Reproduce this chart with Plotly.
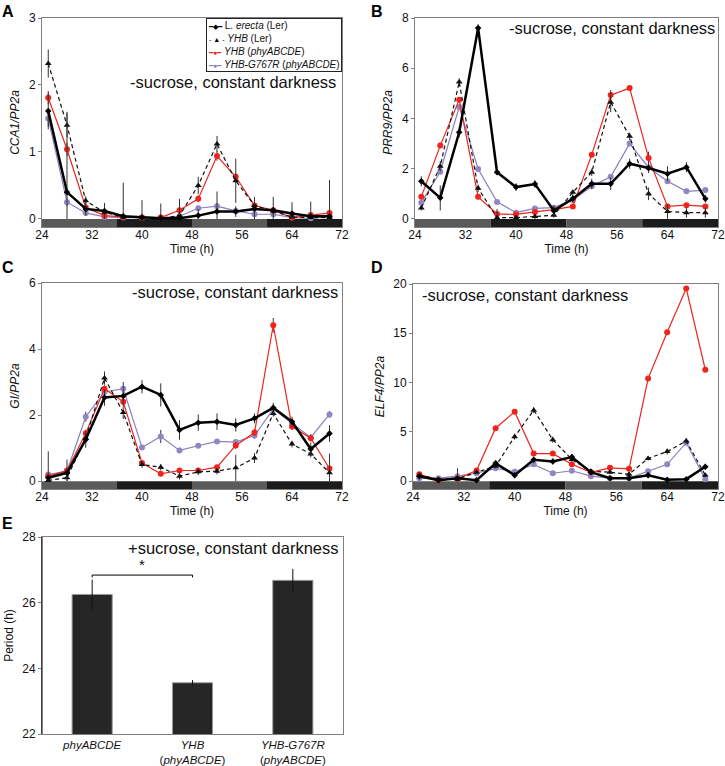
import numpy as np
import plotly.graph_objects as go

FONT = "Liberation Sans, Arial, sans-serif"

# sampling times (h in constant darkness) and subjective day/night bar
TIME_H = [25, 28, 31, 34, 37, 40, 43, 46, 49, 52, 55, 58, 61, 64, 67, 70]
TIME_TICKS = [24, 32, 40, 48, 56, 64, 72]
PHASES = [(24, 36, "day"), (36, 48, "night"), (48, 60, "day"), (60, 72, "night")]

# A: CCA1/PP2a
CCA1_LER = [1.61, 0.40, 0.15, 0.12, 0.04, 0.02, 0.01, 0.01, 0.05, 0.11, 0.11, 0.15, 0.13, 0.08, 0.04, 0.04]
CCA1_LER_ERR = [0.27, 1.20, 0.10, 0.12, 0.50, 0.26, 0.22, 0.29, 0.10, 0.30, 0.08, 0.18, 0.20, 0.17, 0.22, 0.54]
CCA1_YHB_LER = [2.32, 1.40, 0.27, 0.10, 0.03, 0.02, 0.01, 0.05, 0.50, 1.12, 0.57, 0.20, 0.12, 0.03, 0.02, 0.02]
CCA1_YHB_LER_ERR = [0.21, 0.18, 0.07, 0.05, 0.02, 0.02, 0.02, 0.03, 0.13, 0.12, 0.33, 0.05, 0.05, 0.02, 0.02, 0.02]
CCA1_YHB_ABCDE = [1.81, 1.04, 0.17, 0.05, 0.03, 0.02, 0.02, 0.13, 0.30, 0.94, 0.63, 0.20, 0.13, 0.02, 0.06, 0.09]
CCA1_YHB_ABCDE_ERR = [0.10, 0.10, 0.04, 0.02, 0.02, 0.02, 0.02, 0.03, 0.05, 0.07, 0.05, 0.04, 0.03, 0.02, 0.02, 0.02]
CCA1_G767R = [1.50, 0.25, 0.09, 0.03, 0.02, 0.02, 0.02, 0.04, 0.16, 0.19, 0.12, 0.07, 0.07, 0.02, 0.01, 0.04]
CCA1_G767R_ERR = [0.12, 0.06, 0.03, 0.02, 0.02, 0.02, 0.02, 0.02, 0.04, 0.05, 0.03, 0.02, 0.02, 0.02, 0.02, 0.02]

# B: PRR9/PP2a
PRR9_LER = [1.50, 0.84, 3.45, 7.60, 1.86, 1.27, 1.39, 0.33, 0.81, 1.40, 1.40, 2.20, 2.03, 1.80, 2.06, 0.80]
PRR9_LER_ERR = [0.20, 0.50, 0.20, 0.15, 0.10, 0.15, 0.15, 0.20, 0.15, 0.20, 0.25, 0.20, 0.20, 0.30, 0.20, 0.15]
PRR9_YHB_LER = [0.44, 2.10, 5.45, 1.22, 0.05, 0.05, 0.10, 0.15, 1.06, 1.86, 4.65, 3.29, 1.00, 0.30, 0.25, 0.25]
PRR9_YHB_LER_ERR = [0.10, 0.20, 0.15, 0.15, 0.25, 0.10, 0.10, 0.10, 0.10, 0.15, 0.40, 0.15, 0.25, 0.30, 0.20, 0.20]
PRR9_YHB_ABCDE = [0.88, 2.92, 4.75, 0.88, 0.20, 0.18, 0.28, 0.37, 0.50, 2.56, 4.93, 5.21, 2.43, 0.50, 0.55, 0.50]
PRR9_YHB_ABCDE_ERR = [0.10, 0.10, 0.10, 0.10, 0.20, 0.05, 0.05, 0.05, 0.05, 0.10, 0.20, 0.05, 0.25, 0.05, 0.05, 0.05]
PRR9_G767R = [0.65, 1.88, 4.46, 1.99, 0.68, 0.25, 0.42, 0.45, 0.75, 1.30, 1.68, 3.00, 2.05, 1.50, 1.10, 1.15]
PRR9_G767R_ERR = [0.10, 0.10, 0.10, 0.10, 0.05, 0.05, 0.05, 0.10, 0.05, 0.10, 0.05, 0.10, 0.05, 0.05, 0.05, 0.10]

# C: GI/PP2a
GI_LER = [0.10, 0.25, 1.26, 2.53, 2.58, 2.86, 2.61, 1.55, 1.77, 1.80, 1.70, 1.90, 2.22, 1.80, 0.97, 1.44]
GI_LER_ERR = [0.80, 0.40, 0.25, 0.25, 0.30, 0.20, 0.35, 0.30, 0.25, 0.25, 0.20, 0.15, 0.15, 0.15, 0.20, 0.25]
GI_YHB_LER = [0.02, 0.10, 1.30, 3.12, 2.08, 0.50, 0.42, 0.15, 0.28, 0.30, 0.40, 0.70, 2.05, 1.12, 0.82, 0.25]
GI_YHB_LER_ERR = [0.05, 0.10, 0.15, 0.20, 0.20, 0.10, 0.10, 0.10, 0.10, 0.10, 0.40, 0.15, 0.10, 0.10, 0.10, 0.20]
GI_YHB_ABCDE = [0.15, 0.32, 1.45, 2.80, 2.40, 0.55, 0.22, 0.32, 0.32, 0.42, 1.08, 1.47, 4.72, 1.65, 1.30, 0.38]
GI_YHB_ABCDE_ERR = [0.05, 0.05, 0.10, 0.10, 0.10, 0.05, 0.05, 0.05, 0.05, 0.05, 0.10, 0.10, 0.22, 0.10, 0.10, 0.45]
GI_G767R = [0.20, 0.30, 1.95, 2.70, 2.80, 1.02, 1.35, 0.93, 1.07, 1.20, 1.18, 1.38, 2.18, 1.75, 1.32, 2.02]
GI_G767R_ERR = [0.05, 0.05, 0.15, 0.10, 0.20, 0.05, 0.20, 0.08, 0.05, 0.05, 0.05, 0.10, 0.10, 0.10, 0.10, 0.10]

# D: ELF4/PP2a
ELF4_LER = [0.50, 0.10, 0.30, 0.10, 1.80, 0.60, 2.16, 2.00, 2.44, 0.90, 0.30, 0.30, 0.60, 0.15, 0.20, 1.45]
ELF4_LER_ERR = [0.30, 0.20, 1.00, 0.20, 0.30, 0.30, 0.30, 0.30, 0.30, 0.20, 0.20, 0.20, 0.30, 0.20, 0.20, 0.30]
ELF4_YHB_LER = [0.60, 0.20, 0.20, 0.90, 1.50, 4.50, 7.20, 4.20, 2.20, 1.00, 0.90, 0.70, 2.30, 3.00, 4.07, 0.60]
ELF4_YHB_LER_ERR = [0.20, 0.10, 0.10, 0.20, 0.20, 0.30, 0.30, 0.30, 0.20, 0.20, 0.20, 0.20, 0.20, 0.30, 0.30, 0.20]
ELF4_YHB_ABCDE = [0.70, 0.10, 0.25, 1.08, 5.37, 7.04, 2.79, 2.79, 1.71, 0.90, 1.35, 1.25, 10.40, 15.10, 19.55, 11.30]
ELF4_YHB_ABCDE_ERR = [0.10, 0.10, 0.10, 0.10, 0.20, 0.20, 0.20, 0.20, 0.10, 0.10, 0.10, 0.10, 0.20, 0.20, 0.20, 0.20]
ELF4_G767R = [0.30, 0.30, 0.50, 0.80, 1.30, 0.95, 1.70, 0.80, 1.05, 0.50, 0.30, 0.30, 1.00, 1.70, 3.90, 0.20]
ELF4_G767R_ERR = [0.10, 0.10, 0.10, 0.10, 0.10, 0.10, 0.10, 0.10, 0.10, 0.10, 0.10, 0.10, 0.10, 0.10, 0.20, 0.10]

# E: free-running period
PERIOD_GENOTYPES = [
    "<i>phyABCDE</i>",
    "<i>YHB</i><br>(<i>phyABCDE</i>)",
    "<i>YHB-G767R</i><br>(<i>phyABCDE</i>)",
]
PERIOD_H = [26.25, 23.56, 26.68]
PERIOD_ERR = [0.45, 0.08, 0.35]
SIGNIFICANT_PAIR = (0, 1)

STYLES = {
    "g767r": dict(line=dict(color="#8c7dbd", width=1.2),
                  marker=dict(symbol="circle", size=6, color="#9385c4")),
    "yhb_abcde": dict(line=dict(color="#e8251f", width=1.2),
                      marker=dict(symbol="circle", size=6, color="#f0241c")),
    "yhb_ler": dict(line=dict(color="#111111", width=1.2, dash="4px,3px"),
                    marker=dict(symbol="triangle-up", size=6, color="#111111")),
    "ler": dict(line=dict(color="#000000", width=2.5),
                marker=dict(symbol="diamond", size=5, color="#000000")),
}

PANELS = [
    ("A", "<i>CCA1/PP2a</i>", [-0.12, 3], [0, 1, 2, 3],
     {"g767r": (CCA1_G767R, CCA1_G767R_ERR), "yhb_abcde": (CCA1_YHB_ABCDE, CCA1_YHB_ABCDE_ERR),
      "yhb_ler": (CCA1_YHB_LER, CCA1_YHB_LER_ERR), "ler": (CCA1_LER, CCA1_LER_ERR)}),
    ("B", "<i>PRR9/PP2a</i>", [-0.32, 8], [0, 2, 4, 6, 8],
     {"g767r": (PRR9_G767R, PRR9_G767R_ERR), "yhb_abcde": (PRR9_YHB_ABCDE, PRR9_YHB_ABCDE_ERR),
      "yhb_ler": (PRR9_YHB_LER, PRR9_YHB_LER_ERR), "ler": (PRR9_LER, PRR9_LER_ERR)}),
    ("C", "<i>GI/PP2a</i>", [-0.24, 6], [0, 2, 4, 6],
     {"g767r": (GI_G767R, GI_G767R_ERR), "yhb_abcde": (GI_YHB_ABCDE, GI_YHB_ABCDE_ERR),
      "yhb_ler": (GI_YHB_LER, GI_YHB_LER_ERR), "ler": (GI_LER, GI_LER_ERR)}),
    ("D", "<i>ELF4/PP2a</i>", [-0.8, 20], [0, 5, 10, 15, 20],
     {"g767r": (ELF4_G767R, ELF4_G767R_ERR), "yhb_abcde": (ELF4_YHB_ABCDE, ELF4_YHB_ABCDE_ERR),
      "yhb_ler": (ELF4_YHB_LER, ELF4_YHB_LER_ERR), "ler": (ELF4_LER, ELF4_LER_ERR)}),
]

# pixel boxes (left, top, right, bottom) in the 725x766 page
W, H = 725, 766
BOXES = {
    "A": (42, 18, 342, 227),
    "B": (415, 18, 718, 227),
    "C": (42, 283, 342, 489),
    "D": (413, 284, 718, 489),
    "E": (42, 537, 343, 734),
}


def dom(box):
    left, top, right, bottom = box
    return [left / W, right / W], [1 - bottom / H, 1 - top / H]


fig = go.Figure()
frame = dict(showline=True, mirror=True, linecolor="#808080", linewidth=1, automargin=False,
             showgrid=False, zeroline=False, tickfont=dict(size=12, color="#111"))

for n, (letter, ytitle, yrange, yticks, series) in enumerate(PANELS, start=1):
    sfx = "" if n == 1 else str(n)
    for key, (vals, errs) in series.items():
        v = np.array(vals)
        e = np.array(errs)
        fig.add_trace(go.Scatter(
            x=TIME_H, y=v, mode="lines+markers",
            xaxis="x" + sfx, yaxis="y" + sfx,
            line=STYLES[key]["line"], marker=STYLES[key]["marker"],
            error_y=dict(type="data", array=e, arrayminus=np.minimum(e, v),
                         color="#333333", thickness=1, width=0),
            showlegend=False, hoverinfo="skip",
        ))
    xd, yd = dom(BOXES[letter])
    fig.layout["xaxis" + sfx] = dict(
        frame, domain=xd, anchor="y" + sfx, range=[24, 72], tickvals=TIME_TICKS,
        ticks="", ticklabelstandoff=-3,
        title=dict(text="Time (h)", font=dict(size=12), standoff=0))
    fig.layout["yaxis" + sfx] = dict(
        frame, domain=yd, anchor="x" + sfx, range=yrange, tickvals=yticks,
        ticks="outside", ticklen=3, tickcolor="#808080",
        title=dict(text=ytitle, font=dict(size=12), standoff=6))
    for x0, x1, kind in PHASES:
        fig.add_shape(type="rect", xref="x" + sfx, yref="y" + sfx + " domain",
                      x0=x0, x1=x1, y0=0, y1=0.038, layer="below", line_width=0,
                      fillcolor="#5a5a5a" if kind == "day" else "#1c1c1c")

# E: period bars
fig.add_trace(go.Bar(
    x=PERIOD_GENOTYPES, y=PERIOD_H, xaxis="x5", yaxis="y5", width=0.4,
    marker=dict(color="#262626", line=dict(color="#9a9a9a", width=1)),
    error_y=dict(type="data", array=PERIOD_ERR, color="#111", thickness=1, width=0),
    showlegend=False, hoverinfo="skip",
))
xd, yd = dom(BOXES["E"])
fig.layout["xaxis5"] = dict(frame, domain=xd, anchor="y5", range=[-0.5, 2.5], ticks="",
                            tickfont=dict(size=11.5, color="#111"))
fig.layout["yaxis5"] = dict(
    frame, domain=yd, anchor="x5", range=[22, 28], tickvals=[22, 24, 26, 28],
    ticks="outside", ticklen=3, tickcolor="#808080",
    title=dict(text="Period (h)", font=dict(size=12), standoff=6))
fig.add_shape(type="line", xref="x5 domain", yref="y5", x0=0, x1=0, y0=22, y1=28,
              line=dict(color="#000", width=1))

i, j = SIGNIFICANT_PAIR
top = max(PERIOD_H[i] + PERIOD_ERR[i], PERIOD_H[j] + PERIOD_ERR[j]) + 0.14
fig.add_shape(type="path", xref="x5", yref="y5",
              path=f"M {i},{top - 0.07} L {i},{top} L {j},{top} L {j},{top - 0.07}",
              line=dict(color="#000", width=1))
fig.add_annotation(x=(i + j) / 2, y=top, xref="x5", yref="y5", text="*", showarrow=False,
                   yanchor="bottom", font=dict(size=15, color="#111"))

# condition labels
conditions = [
    ("A", "-sucrose, constant darkness", 338, 82, "right"),
    ("B", "-sucrose, constant darkness", 717, 28, "right"),
    ("C", "-sucrose, constant darkness", 340, 292, "right"),
    ("D", "-sucrose, constant darkness", 420, 295, "left"),
    ("E", "+sucrose, constant darkness", 341, 548, "right"),
]
for _, text, px, py, anchor in conditions:
    fig.add_annotation(x=px / W, y=1 - py / H, xref="paper", yref="paper", text=text,
                       showarrow=False, xanchor=anchor, yanchor="middle",
                       font=dict(size=16.5, color="#111"))

# panel letters
for letter, px, py in [("A", 8, 12), ("B", 377, 12), ("C", 8, 267), ("D", 377, 267), ("E", 8, 523)]:
    fig.add_annotation(x=px / W, y=1 - py / H, xref="paper", yref="paper",
                       text=f"<b>{letter}</b>", showarrow=False, xanchor="center",
                       yanchor="middle", font=dict(size=16, color="#000"))

# legend box of panel A
sym = "<span style='color:{};font-size:7px'>{}</span>"
legend_text = (
    sym.format("#000", "━◆━") + " L. <i>erecta</i> (Ler)<br>"
    + sym.format("#000", "- ▲ -") + " <i>YHB</i> (Ler)<br>"
    + sym.format("#e8251f", "━●━") + " <i>YHB</i> (<i>phyABCDE</i>)<br>"
    + sym.format("#8c7dbd", "━●━") + " <i>YHB-G767R</i> (<i>phyABCDE</i>)"
)
fig.add_annotation(x=342 / W, y=1 - 18 / H, xref="paper", yref="paper", text=legend_text,
                   showarrow=False, xanchor="right", yanchor="top", align="left",
                   bordercolor="#222", borderwidth=1, borderpad=1, bgcolor="white",
                   font=dict(size=10, color="#111"))

fig.update_layout(
    width=W, height=H, margin=dict(l=0, r=0, t=0, b=0),
    paper_bgcolor="white", plot_bgcolor="white",
    font=dict(family=FONT, color="#111"), showlegend=False,
)
fig.write_html(
    "out.html",
    config={"displayModeBar": False},
    post_script="document.body.style.margin='0';document.body.style.overflow='hidden';",
)
